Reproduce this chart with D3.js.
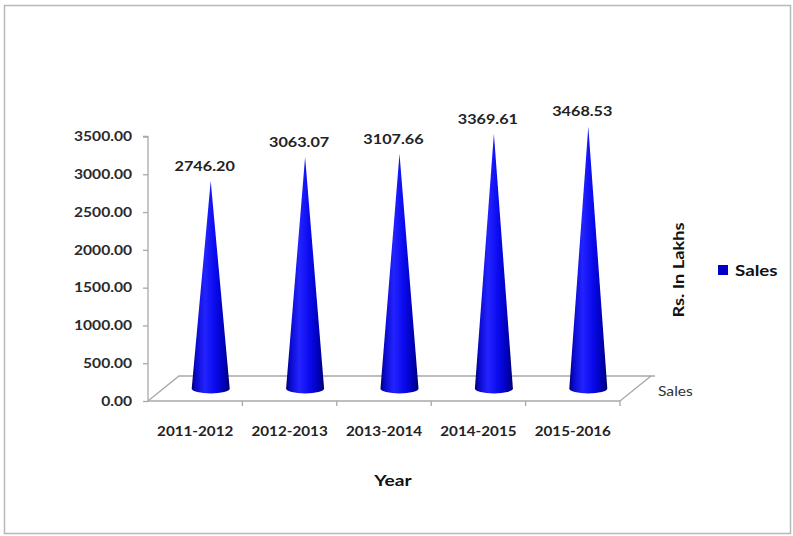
<!DOCTYPE html>
<html>
<head>
<meta charset="utf-8">
<script src="https://cdn.jsdelivr.net/npm/d3@7"></script>
<style>
  html, body { margin: 0; padding: 0; background: #fff; }
  svg { display: block; }
  text { font-family: Lato, "Open Sans", "Liberation Sans", sans-serif; }
</style>
</head>
<body>
<svg id="chart" width="793" height="536"></svg>
<script>
// Annual sales, Rs. in Lakhs
const years = ["2011-2012", "2012-2013", "2013-2014", "2014-2015", "2015-2016"];
const sales = [2746.20, 3063.07, 3107.66, 3369.61, 3468.53];
const yTicks = [0, 500, 1000, 1500, 2000, 2500, 3000, 3500];
const seriesName = "Sales";

(function draw() {
  const svg = d3.select("#chart");

  // Widen text glyphs horizontally by factor k (wide Calibri-like look)
  function widen(sel, k) {
    sel.each(function () {
      const n = this.getComputedTextLength();
      d3.select(this).attr("textLength", n * k).attr("lengthAdjust", "spacingAndGlyphs");
    });
  }

  // Chart frame
  svg.append("rect")
    .attr("x", 4.5).attr("y", 5.5).attr("width", 786).attr("height", 528)
    .attr("fill", "#fff").attr("stroke", "#b8b8b8").attr("stroke-width", 1.5);

  // Plot geometry (front plane + depth offset for the 3D floor)
  const plotLeft = 148, plotRight = 620, plotBottom = 401, plotTop = 136;
  const depthX = 31, depthY = -25;

  const x = d3.scaleBand().domain(years).range([plotLeft, plotRight]).padding(0);
  const y = d3.scaleLinear().domain([0, 3500]).range([plotBottom, plotTop + 0.5]);

  // Floor parallelogram
  svg.append("path")
    .attr("fill", "none").attr("stroke", "#a8a8a8").attr("stroke-width", 1.3)
    .attr("d", `M${plotLeft},${plotBottom} L${plotLeft + depthX},${plotBottom + depthY} L${plotRight + depthX + 4},${plotBottom + depthY} M${plotRight + depthX},${plotBottom + depthY} L${plotRight},${plotBottom}`);

  // Value axis
  const yAxis = d3.axisLeft(y).tickValues(yTicks).tickSize(5).tickFormat(d3.format(".2f"));
  const gy = svg.append("g").attr("transform", `translate(${plotLeft},0)`).call(yAxis);
  gy.select(".domain").attr("stroke", "#a8a8a8").attr("stroke-width", 1.3)
    .attr("d", `M-5,${y(3500)}H0V${plotBottom}`);
  gy.selectAll(".tick line").attr("stroke", "#a8a8a8").attr("stroke-width", 1.3);
  gy.selectAll(".tick text")
    .attr("x", -16).attr("fill", "#2a2a2a").attr("font-size", 13).attr("font-weight", "bold")
    .style("font-family", "Lato, 'Open Sans', sans-serif");
  widen(gy.selectAll(".tick text"), 1.2);

  // Category axis
  const xAxis = d3.axisBottom(x).tickSize(0).tickPadding(0);
  const gx = svg.append("g").attr("transform", `translate(0,${plotBottom})`).call(xAxis);
  gx.select(".domain").attr("stroke", "#a8a8a8").attr("stroke-width", 1.3)
    .attr("d", `M${plotLeft},0H${plotRight}`);
  gx.selectAll(".tick text")
    .attr("y", 30).attr("dy", "0.35em")
    .attr("fill", "#222").attr("font-size", 13).attr("font-weight", "bold")
    .style("font-family", "Lato, 'Open Sans', sans-serif");
  widen(gx.selectAll(".tick text"), 1.17);

  // Category boundary ticks
  const bounds = years.map(d => x(d)).concat([plotRight]).slice(1);
  svg.append("g").selectAll("line").data(bounds).join("line")
    .attr("x1", d => d).attr("x2", d => d)
    .attr("y1", plotBottom).attr("y2", plotBottom + 5)
    .attr("stroke", "#a8a8a8").attr("stroke-width", 1.3);

  // Cone shading
  const defs = svg.append("defs");
  const grad = defs.append("linearGradient").attr("id", "coneFill")
    .attr("x1", "0").attr("x2", "1").attr("y1", "0").attr("y2", "0");
  [[0, "#000070"], [0.12, "#0a0ad0"], [0.35, "#2323ff"], [0.6, "#0b0bf0"], [0.85, "#0000b8"], [1, "#00006a"]]
    .forEach(([o, c]) => grad.append("stop").attr("offset", o).attr("stop-color", c));

  // Cones sit halfway into the depth of the floor
  const dx = depthX / 2, dy = depthY / 2;
  const r = 19, ry = 5;
  const labels = [];
  years.forEach((yr, i) => {
    const cx = x(yr) + x.bandwidth() / 2 + dx;
    const base = y(0) + dy;
    const tip = y(sales[i]) + dy;
    svg.append("path")
      .attr("d", `M${cx - r},${base} L${cx},${tip} L${cx + r},${base} A${r},${ry} 0 0 1 ${cx - r},${base} Z`)
      .attr("fill", "url(#coneFill)");
    labels.push(svg.append("text")
      .attr("x", cx - 6).attr("y", tip - 10)
      .attr("text-anchor", "middle")
      .attr("fill", "#222").attr("font-size", 13.5).attr("font-weight", "bold")
      .text(sales[i].toFixed(2)).node());
  });
  widen(d3.selectAll(labels), 1.2);

  // Depth axis label
  widen(svg.append("text")
    .attr("x", 658).attr("y", 392).attr("dy", "0.35em")
    .attr("fill", "#333").attr("font-size", 12.5)
    .text(seriesName), 1.25);

  // Axis titles
  widen(svg.append("text")
    .attr("x", 393).attr("y", 480).attr("dy", "0.35em")
    .attr("text-anchor", "middle").attr("fill", "#111")
    .attr("font-size", 16).attr("font-weight", "bold")
    .text("Year"), 1.2);

  svg.append("text")
    .attr("transform", "translate(679,270) rotate(-90)")
    .attr("dy", "0.35em").attr("text-anchor", "middle").attr("fill", "#111")
    .attr("font-size", 15).attr("font-weight", "bold")
    .attr("textLength", 95).attr("lengthAdjust", "spacingAndGlyphs")
    .text("Rs. In Lakhs");

  // Legend
  svg.append("rect")
    .attr("x", 718).attr("y", 265).attr("width", 10).attr("height", 10)
    .attr("fill", "#0000c8");
  widen(svg.append("text")
    .attr("x", 735).attr("y", 271).attr("dy", "0.35em")
    .attr("fill", "#111").attr("font-size", 15).attr("font-weight", "bold")
    .text(seriesName), 1.25);
})();
</script>
</body>
</html>
